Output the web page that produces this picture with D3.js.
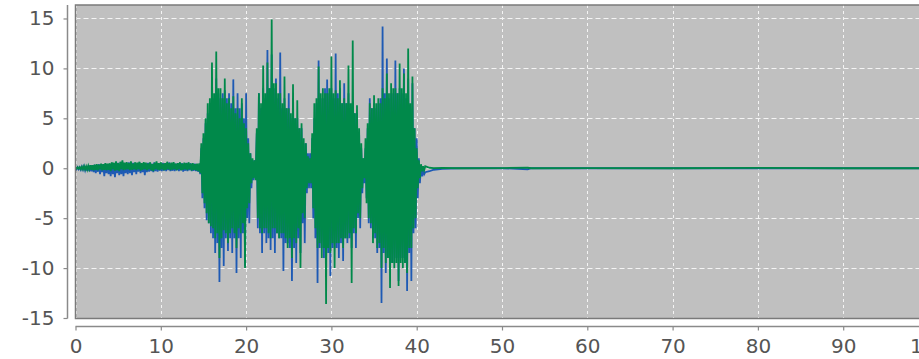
<!DOCTYPE html>
<html>
<head>
<meta charset="utf-8">
<script src="https://cdn.jsdelivr.net/npm/d3@7"></script>
<style>
  html, body { margin: 0; padding: 0; background: #ffffff; }
  svg { display: block; }
</style>
</head>
<body>
<div id="chart"></div>
<script>
// Ticks
const xTicks = [0, 10, 20, 30, 40, 50, 60, 70, 80, 90, 100];
const yTicks = [-15, -10, -5, 0, 5, 10, 15];

// Waveform samples, x = 0 .. 41 every 0.125 (high / low pairs)
const waveStart = 0;
const waveStep = 0.125;

// quiet part, x = 0 .. 14.375
const blueLead = [
  0.05, -0.1, 0.1, -0.1, 0.1, -0.15, 0.15, -0.15, 0.2, -0.2, 0.2, -0.25, 0.25, -0.3, 0.3, -0.3,
  0.3, -0.4, 0.35, -0.5, 0.3, -0.35, 0.4, -0.6, 0.35, -0.4, 0.4, -0.8, 0.45, -0.5, 0.4, -0.6,
  0.4, -0.8, 0.5, -0.6, 0.45, -0.9, 0.5, -0.5, 0.55, -0.7, 0.4, -0.6, 0.6, -0.8, 0.5, -0.5,
  0.45, -0.6, 0.6, -0.5, 0.5, -0.7, 0.55, -0.4, 0.5, -0.6, 0.45, -0.35, 0.6, -0.5, 0.4, -0.4,
  0.5, -0.7, 0.45, -0.4, 0.55, -0.35, 0.5, -0.3, 0.45, -0.4, 0.6, -0.3, 0.5, -0.35, 0.45, -0.25,
  0.5, -0.3, 0.55, -0.25, 0.45, -0.3, 0.5, -0.2, 0.6, -0.3, 0.4, -0.25, 0.5, -0.3, 0.45, -0.2,
  0.5, -0.3, 0.45, -0.2, 0.5, -0.35, 0.4, -0.25, 0.55, -0.3, 0.45, -0.2, 0.5, -0.3, 0.4, -0.25,
  0.45, -0.3, 0.4, -0.35
];
const greenLead = [
  0.05, -0.05, 0.1, -0.05, 0.1, -0.1, 0.15, -0.1, 0.2, -0.1, 0.2, -0.15, 0.25, -0.1, 0.3, -0.15,
  0.3, -0.2, 0.35, -0.15, 0.4, -0.2, 0.35, -0.1, 0.45, -0.2, 0.4, -0.15, 0.5, -0.2, 0.45, -0.15,
  0.5, -0.3, 0.6, -0.1, 0.55, -0.25, 0.7, -0.2, 0.5, -0.3, 0.65, -0.1, 0.8, -0.2, 0.55, -0.15,
  0.6, -0.1, 0.5, -0.2, 0.7, -0.15, 0.45, -0.1, 0.6, -0.2, 0.55, -0.1, 0.65, -0.25, 0.5, -0.15,
  0.6, -0.1, 0.55, -0.2, 0.45, -0.1, 0.6, -0.2, 0.4, -0.3, 0.55, -0.1, 0.7, -0.15, 0.5, -0.2,
  0.6, -0.1, 0.45, -0.2, 0.5, -0.15, 0.65, -0.1, 0.5, -0.2, 0.55, -0.15, 0.6, -0.1, 0.45, -0.2,
  0.5, -0.1, 0.6, -0.2, 0.45, -0.15, 0.55, -0.1, 0.5, -0.2, 0.6, -0.1, 0.45, -0.25, 0.5, -0.15,
  0.4, -0.2, 0.45, -0.3
];

// speech bursts, x = 14.5 .. 41
const blueBurst = [
  0.3, -0.6, 2.0, -3.0, 3.0, -4.0, 4.5, -5.2, 5.5, -5.5, 6.5, -6.5, 8.0, -7.0, 7.0, -8.5,
  9.0, -7.5, 7.5, -11.4, 7.0, -8.0, 7.5, -9.8, 7.8, -7.0, 7.0, -8.3, 7.5, -7.0, 6.5, -8.5,
  8.9, -7.0, 6.0, -10.5, 7.5, -7.0, 6.0, -9.0, 6.5, -6.5, 5.0, -9.8, 7.5, -5.0, 3.0, -5.5,
  1.5, -2.0, 0.8, -1.2, 0.8, -1.0, 3.5, -6.0, 7.5, -6.5, 6.0, -8.5, 8.0, -6.5, 7.0, -7.5,
  11.85, -7.0, 8.0, -8.2, 11.4, -7.0, 8.0, -8.5, 9.0, -6.5, 7.0, -7.0, 11.6, -7.0, 6.0, -10.3,
  7.0, -7.5, 6.0, -7.5, 7.5, -8.0, 5.0, -11.3, 6.0, -8.0, 5.0, -9.5, 5.0, -7.0, 4.0, -8.5,
  4.0, -5.5, 2.5, -7.5, 2.5, -2.5, 1.5, -2.0, 1.5, -2.0, 3.0, -5.0, 5.0, -7.0, 6.5, -11.5,
  10.8, -8.0, 7.0, -8.0, 7.0, -9.0, 8.0, -10.0, 8.9, -8.5, 7.5, -10.8, 8.0, -8.0, 7.0, -8.0,
  11.5, -8.0, 7.5, -9.0, 8.0, -7.5, 6.5, -9.3, 8.5, -7.0, 6.5, -7.5, 7.5, -7.0, 6.0, -8.0,
  6.5, -6.5, 5.5, -8.0, 5.5, -5.0, 3.5, -6.0, 2.0, -2.5, 1.0, -1.5, 2.0, -3.0, 4.0, -5.5,
  7.0, -6.0, 6.0, -7.0, 6.5, -7.0, 6.0, -8.5, 6.5, -8.0, 7.0, -13.5, 14.2, -8.5, 7.5, -10.5,
  11.0, -9.0, 7.0, -9.0, 7.5, -9.5, 7.5, -9.5, 10.8, -9.0, 7.5, -11.3, 8.0, -9.0, 7.5, -9.0,
  10.0, -9.5, 7.0, -12.3, 9.0, -8.5, 6.0, -11.3, 8.5, -6.5, 4.0, -6.0, 3.0, -3.0, 1.0, -1.5,
  0.3, -0.8, -0.2, -0.6, -0.4
];
const greenBurst = [
  0.5, -0.5, 2.5, -2.5, 3.5, -3.5, 5.0, -4.5, 6.5, -5.5, 7.0, -5.8, 10.6, -6.0, 7.5, -7.0,
  11.7, -6.5, 8.0, -9.0, 8.0, -7.0, 7.0, -6.2, 9.0, -6.5, 6.5, -7.5, 7.0, -6.5, 6.0, -6.0,
  7.2, -6.5, 5.5, -8.0, 6.0, -6.0, 5.0, -6.5, 7.0, -5.5, 4.5, -10.0, 4.0, -4.0, 2.5, -3.5,
  1.5, -1.5, 1.0, -1.0, 0.8, -1.2, 4.0, -5.0, 7.5, -6.0, 6.5, -6.5, 10.3, -6.0, 7.5, -6.0,
  10.6, -6.5, 8.0, -7.0, 14.9, -6.0, 8.5, -6.0, 8.5, -6.5, 7.5, -7.0, 7.5, -6.5, 6.5, -6.5,
  9.2, -7.0, 6.0, -8.0, 6.0, -7.0, 5.5, -9.0, 8.4, -7.0, 5.0, -7.5, 6.8, -6.0, 4.0, -10.0,
  4.5, -4.5, 3.0, -5.0, 2.5, -2.0, 1.2, -1.5, 1.0, -1.5, 3.5, -4.0, 6.5, -6.0, 7.0, -8.0,
  10.2, -7.5, 7.5, -9.0, 8.0, -8.0, 7.5, -13.6, 7.5, -8.0, 8.0, -8.5, 11.2, -7.5, 7.5, -10.0,
  7.8, -7.5, 7.0, -7.5, 8.8, -7.0, 6.5, -8.0, 7.0, -7.0, 6.5, -7.0, 10.3, -6.5, 6.5, -11.5,
  12.8, -6.0, 5.5, -6.5, 6.3, -4.5, 4.0, -5.0, 2.5, -2.0, 1.0, -1.0, 3.0, -3.5, 4.5, -5.0,
  6.5, -5.5, 6.0, -7.5, 7.3, -6.5, 6.5, -8.0, 7.0, -7.5, 6.5, -10.0, 8.0, -8.0, 7.0, -9.5,
  9.5, -9.0, 7.5, -12.0, 8.5, -9.5, 8.0, -10.0, 8.0, -9.5, 7.5, -11.8, 10.5, -9.5, 8.0, -10.0,
  9.5, -9.5, 7.5, -10.5, 12.0, -8.0, 6.5, -8.0, 9.2, -6.0, 4.0, -5.0, 2.0, -2.0, 0.8, -1.0,
  0.4, -0.3, 0.2, -0.2, 0.2
];

// quiet tail after the bursts
const tailX     = [41.5, 42, 43, 45, 50, 53, 53.5, 60, 70, 80, 90, 100, 102];
const blueTail  = [-0.3, -0.15, -0.05, 0, 0, -0.1, 0, 0, 0, 0, 0, 0, 0];
const greenTail = [0.05, 0.02, 0.03, 0, 0.02, 0.05, 0, 0.02, 0, 0.03, 0, 0, 0];

function buildSeries(lead, burst, tail) {
  const vals = lead.concat(burst);
  const pts = vals.map((v, i) => ({ x: waveStart + i * waveStep, y: v }));
  tailX.forEach((x, i) => pts.push({ x: x, y: tail[i] }));
  return pts;
}
const blueData = buildSeries(blueLead, blueBurst, blueTail);
const greenData = buildSeries(greenLead, greenBurst, greenTail);

// Layout
const W = 919, H = 359;
const plot = { left: 75.5, top: 5, right: 945, bottom: 318.5 };
const fontFamily = "'DejaVu Sans', Verdana, sans-serif";
const labelColor = "#555555";

const svg = d3.select("#chart").append("svg")
  .attr("width", W)
  .attr("height", H);

const x = d3.scaleLinear().domain([0, 100]).range([75.5, 928.5]);
const y = d3.scaleLinear().domain([-15.05, 16.35]).range([plot.bottom, plot.top]);

svg.append("defs").append("clipPath")
  .attr("id", "plot-clip")
  .append("rect")
  .attr("x", plot.left)
  .attr("y", plot.top)
  .attr("width", plot.right - plot.left)
  .attr("height", plot.bottom - plot.top);

// Plot background
svg.append("rect")
  .attr("x", plot.left)
  .attr("y", plot.top)
  .attr("width", plot.right - plot.left)
  .attr("height", plot.bottom - plot.top)
  .attr("fill", "#c0c0c0");

// Gridlines (dashed, white)
const grid = svg.append("g").attr("clip-path", "url(#plot-clip)");
grid.selectAll("line.gx")
  .data(xTicks)
  .join("line")
  .attr("class", "gx")
  .attr("x1", d => Math.round(x(d)) + 0.5).attr("x2", d => Math.round(x(d)) + 0.5)
  .attr("y1", plot.top).attr("y2", plot.bottom)
  .attr("stroke", "#f4f4f4")
  .attr("stroke-width", 1)
  .attr("stroke-dasharray", "3,3");
grid.selectAll("line.gy")
  .data(yTicks)
  .join("line")
  .attr("class", "gy")
  .attr("x1", plot.left).attr("x2", plot.right)
  .attr("y1", d => Math.round(y(d)) + 0.5).attr("y2", d => Math.round(y(d)) + 0.5)
  .attr("stroke", "#f4f4f4")
  .attr("stroke-width", 1)
  .attr("stroke-dasharray", "5,3");

// Series
const line = d3.line()
  .x(d => x(d.x))
  .y(d => y(d.y));

const series = svg.append("g").attr("clip-path", "url(#plot-clip)");
series.append("path")
  .datum(blueData)
  .attr("fill", "none")
  .attr("stroke", "#1e5ab4")
  .attr("stroke-width", 1.8)
  .attr("d", line);
series.append("path")
  .datum(greenData)
  .attr("fill", "none")
  .attr("stroke", "#00894a")
  .attr("stroke-width", 1.8)
  .attr("d", line);

// Plot outline
svg.append("rect")
  .attr("x", plot.left)
  .attr("y", plot.top)
  .attr("width", plot.right - plot.left)
  .attr("height", plot.bottom - plot.top)
  .attr("fill", "none")
  .attr("stroke", "#7a7a7a")
  .attr("stroke-width", 1.5);

// Y axis
const yAxis = svg.append("g")
  .attr("transform", "translate(67.5,0)")
  .call(d3.axisLeft(y).tickValues(yTicks).tickFormat(d => String(d)).tickSize(4).tickPadding(9));
yAxis.select(".domain")
  .attr("d", `M0,${plot.top}V${plot.bottom}`)
  .attr("stroke", "#8a8a8a")
  .attr("stroke-width", 1.5);
yAxis.selectAll(".tick line").attr("stroke", "#8a8a8a").attr("stroke-width", 1.2);
yAxis.selectAll(".tick text")
  .attr("fill", labelColor)
  .style("font-family", fontFamily)
  .style("font-size", "20px");

// X axis
const xAxis = svg.append("g")
  .attr("transform", "translate(0,326.5)")
  .call(d3.axisBottom(x).tickValues(xTicks).tickFormat(d => String(d)).tickSize(4).tickPadding(8));
xAxis.select(".domain")
  .attr("d", `M${plot.left},0H${plot.right}`)
  .attr("stroke", "#8a8a8a")
  .attr("stroke-width", 1.5);
xAxis.selectAll(".tick line").attr("stroke", "#8a8a8a").attr("stroke-width", 1.2);
xAxis.selectAll(".tick text")
  .attr("fill", labelColor)
  .style("font-family", fontFamily)
  .style("font-size", "20px");
</script>
</body>
</html>
